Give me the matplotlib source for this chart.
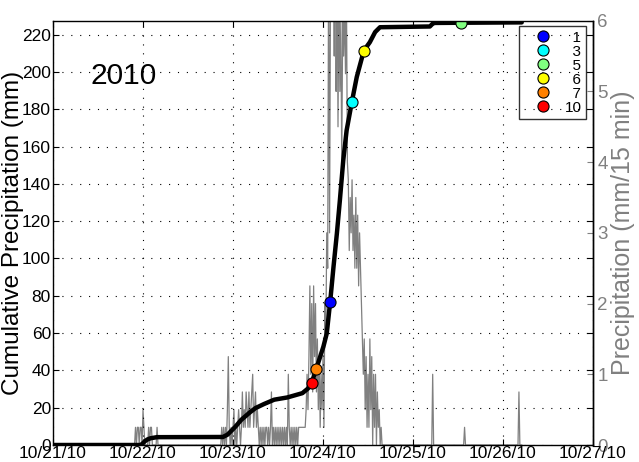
import numpy as np
import matplotlib
matplotlib.use("Agg")
import matplotlib.pyplot as plt

plt.rcParams['font.family'] = ['Liberation Sans', 'DejaVu Sans']

# date ticks, one per day starting 10/21/10 00:00
date_labels = ['10/21/10', '10/22/10', '10/23/10', '10/24/10',
               '10/25/10', '10/26/10', '10/27/10']

# cumulative rainfall (hours since 10/21 00:00, mm)
cum_hours = [0, 23.4, 24.0, 24.5, 25.2, 26.0, 27.7, 45.3, 46.5, 47.5, 48.5,
             50.2, 52.5, 54.0, 56.3, 59.0, 62.5, 66.5, 68.0, 69.0, 70.2,
             72.1, 73.0, 73.9, 74.8, 75.7, 76.5, 77.4, 78.3, 79.7, 81.0,
             82.9, 84.5, 85.9, 87.2, 100.5, 101.3, 101.8, 108.8, 125.0]
cum_mm = [0, 0, 1.0, 2.0, 3.0, 3.6, 4.2, 4.3, 5.5, 7.5, 9.5,
          13.5, 17.5, 19.8, 22.0, 24.3, 25.5, 27.8, 30.3, 33.4, 40.8,
          52.7, 59.8, 76.5, 95.5, 113.4, 131.2, 152.6, 168.7, 184.0, 197.3,
          211.5, 216.0, 221.4, 224.0, 224.4, 226.0, 226.3, 226.4, 226.6]

# 15-minute rainfall (mm/15 min)
storm_a_start = 22.0   # hours
storm_a = [0.25, 0, 0.25, 0.25, 0, 0.25, 0.25, 0, 0.5, 0.25, 0, 0, 0, 0,
           0.25, 0, 0.25, 0.25, 0, 0, 0, 0, 0, 0.25]
storm_b_start = 45.0   # hours
storm_b = [0.25, 0, 0.25, 0, 0.25, 0, 0.5, 1.25, 0.25, 0, 0.25, 0, 0.25, 0.5,
           0, 0.25, 0, 0.25, 0.5, 0.25, 0, 0.25, 0.75, 0.25, 0.5, 0.25, 0.75,
           0.5, 0.25, 0.75, 0.25, 0.5, 0.75, 1.0, 0.25, 0.5, 0.75, 0.25, 0.5,
           0.25, 0, 0.25, 0, 0.25, 0, 0.25, 0, 0.25, 0.25, 0, 0.25, 0, 0.25,
           0.75, 0, 0.25, 0, 0.25, 0, 0.25, 0, 0.25, 0, 0.25, 0, 0.25, 0,
           0.25, 0, 0.25, 0, 1.0, 0.25, 0, 0.25, 0, 0.25, 0, 0.25, 0, 0.25,
           0, 0.25, 0.25, 0.25, 0.25, 0.25, 0.25, 0.25, 0.25, 0.5, 1.0, 0.5,
           1.25, 2.25, 1.0, 2.0, 0.75, 2.25, 1.25, 2.0, 0.75, 1.5, 0.5, 1.25,
           0.25, 1.0, 0.5, 1.25, 0.25, 2.0, 1.5, 3.0, 2.5, 7.0, 3.0, 6.5, 8.0,
           6.0, 7.5, 5.5, 8.0, 5.0, 7.0, 4.5, 6.5, 5.0, 6.0, 4.0, 6.0, 5.5,
           6.25, 5.25, 6.5, 4.0, 3.75, 2.75, 3.5, 3.0, 3.75, 2.75, 3.25, 2.5,
           3.5, 2.5, 3.25, 2.25, 3.0, 2.5, 2.0, 1.5, 1.0, 1.5, 0.5, 1.25,
           0.25, 1.0, 0.25, 1.5, 0.5, 1.25, 0, 1.0, 0.25, 1.0, 0, 0.75, 0.25,
           0.5, 0, 0.25, 0]
single_hours = [101.25, 109.75, 124.25]
single_mm = [1.0, 0.25, 0.75]
record_hours = 125.0

# threshold markers, in legend order
marker_labels = ['1', '3', '5', '6', '7', '10']
marker_hours = [73.9, 79.7, 108.8, 82.9, 70.2, 69.0]
marker_mm = [76.5, 184.0, 226.4, 211.5, 40.8, 33.4]
marker_colors = ['#0000ff', '#00ffff', '#80ff80', '#ffff00', '#ff8000', '#ff0000']

# assemble the 15 min series
n_steps = int(record_hours / 0.25) + 1
precip = np.zeros(n_steps)
for start, vals in [(storm_a_start, storm_a), (storm_b_start, storm_b)]:
    i0 = int(round(start / 0.25))
    precip[i0:i0 + len(vals)] = vals
for h, v in zip(single_hours, single_mm):
    precip[int(round(h / 0.25))] = v
t_precip = np.arange(n_steps) * 0.25 / 24.0

fig = plt.figure(figsize=(6.39, 4.62), dpi=100)
ax = fig.add_axes([53 / 639, 17 / 462, 540 / 639, 424.3 / 462])
ax2 = ax.twinx()

ax2.plot(t_precip, precip, color='0.5', lw=0.9)
ax2.set_ylim(0, 6)
ax2.set_yticks(range(7))
ax2.tick_params(direction='in', length=4, width=0.8, colors='0.5', labelsize=13.5, pad=3)
for side in ['left', 'top', 'bottom']:
    ax2.spines[side].set_visible(False)
ax2.spines['right'].set_color('k')
ax2.spines['right'].set_linewidth(1.0)
ax2.set_ylabel('Precipitation (mm/15 min)', fontsize=18, color='0.5')
ax2.yaxis.set_label_coords(1.033, 0.5)

# black cumulative curve sits above the gray series
ax.set_zorder(ax2.get_zorder() + 1)
ax.patch.set_visible(False)

ax.plot(np.array(cum_hours) / 24.0, cum_mm, color='k', lw=3.2,
        solid_capstyle='round', solid_joinstyle='round')
for lab, h, v, c in zip(marker_labels, marker_hours, marker_mm, marker_colors):
    ax.plot(h / 24.0, v, 'o', ms=8, mfc=c, mec='k', mew=0.8,
            label=lab.rjust(2, '\u2007'))

ax.set_xlim(0, 6)
ax.set_xticks(range(7))
ax.set_xticklabels(date_labels)
ax.set_ylim(0, 227.5)
ax.set_yticks(range(0, 221, 20))
ax.grid(True, color='k', linestyle=(0, (1, 7)), lw=0.8)
ax.tick_params(direction='in', top=True, right=True, length=4, width=0.8,
               labelsize=12.5)
ax.tick_params(axis='x', pad=1)
ax.tick_params(axis='y', pad=1.5)
for sp in ax.spines.values():
    sp.set_linewidth(1.0)
ax.set_ylabel('Cumulative Precipitation (mm)', fontsize=17.5)
ax.yaxis.set_label_coords(-0.054, 0.5)

ax.text(0.78, 198, '2010', fontsize=21.5, ha='center', va='center')

leg = ax.legend(loc='upper right', bbox_to_anchor=(0.987, 0.9875),
                borderaxespad=0, fontsize=11, labelspacing=0,
                handlelength=2.6, handletextpad=0.1, borderpad=0.3,
                fancybox=False, edgecolor='k')
leg.get_frame().set_facecolor('none')
leg.get_frame().set_linewidth(1.0)

fig.savefig('out.png', dpi=100)
